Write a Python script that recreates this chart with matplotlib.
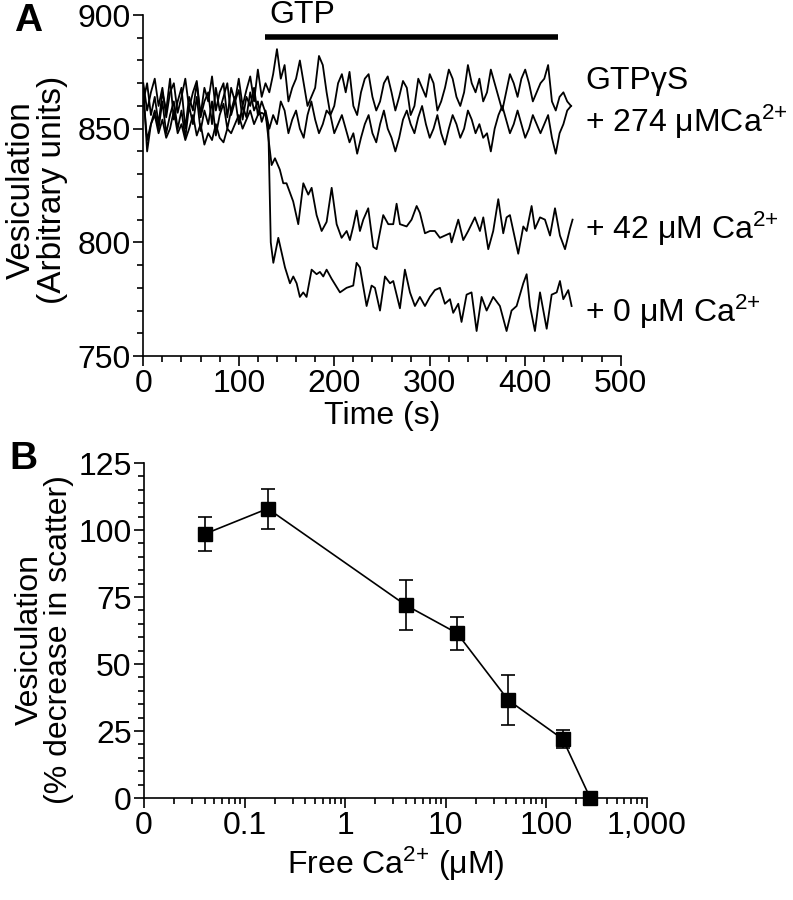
import numpy as np
import matplotlib
matplotlib.use('Agg')
import matplotlib.pyplot as plt
from matplotlib.ticker import FixedLocator, FixedFormatter, MultipleLocator, LogLocator, NullFormatter

plt.rcParams['font.family'] = ['Liberation Sans', 'DejaVu Sans']
plt.rcParams['mathtext.fontset'] = 'custom'
plt.rcParams['mathtext.rm'] = 'Liberation Sans'

# ---------------- Panel A data (Time in s, vesiculation in arbitrary units) -------------
time_flat = list(range(0, 449, 4))
time_pre = list(range(0, 129, 4))

gtpgs = [870, 858, 866, 872, 860, 868, 855, 866, 870, 857, 864, 872, 859, 866, 871, 856,
         868, 862, 873, 858, 866, 870, 855, 868, 862, 872, 860, 867, 873, 862, 876, 864, 870,
         866, 874, 885, 872, 878, 862, 868, 872, 880, 870,
         860, 864, 868, 882, 878, 866, 856, 860, 870, 874,
         866, 875, 860, 856, 866, 872, 874, 864, 858, 862,
         870, 873, 866, 858, 864, 871, 868, 856, 860, 872,
         868, 864, 874, 870, 858, 862, 868, 876, 872, 864,
         860, 866, 878, 870, 866, 872, 862, 866, 876, 870,
         864, 858, 866, 874, 870, 864, 872, 876, 870, 862,
         866, 870, 872, 878, 862, 858, 864, 866, 862, 860]

ca274 = [865, 845, 852, 858, 850, 862, 848, 856, 862, 850, 858, 846, 860, 852, 864, 849,
         858, 852, 862, 847, 856, 861, 850, 858, 864, 852, 860, 855, 866, 858, 862, 853, 858,
         850, 856, 852, 862, 858, 848, 854, 858, 850, 846,
         856, 862, 854, 848, 852, 858, 856, 848, 852, 856,
         850, 844, 848, 839, 846, 852, 856, 848, 844, 852,
         858, 850, 846, 840, 846, 854, 858, 852, 848, 855,
         860, 852, 846, 850, 856, 848, 843, 850, 856, 852,
         846, 850, 858, 854, 848, 852, 846, 848, 840, 850,
         856, 860, 854, 848, 852, 858, 852, 846, 850, 856,
         852, 848, 852, 856, 846, 839, 848, 852, 858, 860]

ca42_pre = [862, 870, 856, 864, 852, 866, 858, 872, 854, 862, 868, 850, 864, 858, 870, 855,
            862, 866, 852, 868, 858, 864, 870, 856, 862, 867, 854, 864, 860, 868, 856, 862, 857]
ca42_time_post = [131, 134.4, 137.9, 143.0, 146.6, 150.0, 157.0, 162.3, 167.6, 172.8,
                  176.3, 181.5, 186.8, 192.0, 197.3, 202.5, 207.7, 213.0, 216.4, 219.9,
                  223.4, 226.9, 230.4, 235.6, 240.9, 244.4, 251.3, 256.6, 261.8, 265.3,
                  268.8, 275.8, 281.0, 286.3, 289.7, 295.0, 300.2, 305.4, 310.7, 315.9,
                  321.2, 322.9, 329.9, 335.1, 340.3, 347.3, 352.6, 356.1, 361.3, 366.5,
                  371.8, 377.0, 380.5, 384.0, 392.7, 398.0, 401.5, 406.7, 410.2, 415.5,
                  420.7, 426.0, 431.2, 436.4, 441.7, 446.9, 449.6]
ca42_post = [846, 834, 837, 832, 826, 826, 818, 808, 826, 821,
             824, 812, 805, 809, 824, 808, 802, 805, 801, 807,
             814, 805, 810, 815, 798, 797, 812, 808, 808, 817,
             808, 807, 810, 816, 813, 804, 805, 805, 802, 803,
             804, 800, 810, 801, 805, 811, 805, 811, 797, 805,
             819, 804, 811, 812, 795, 807, 805, 816, 806, 811,
             810, 803, 815, 803, 797, 806, 810]

ca0_pre = [868, 840, 852, 856, 848, 854, 846, 850, 858, 848, 852, 845, 850, 856, 847, 852,
           843, 848, 845, 852, 846, 844, 850, 848, 852, 856, 850, 854, 858, 852, 856, 857, 856]
ca0_time_post = [131, 133.5, 136.2, 141.4, 148.4, 153.6, 157.1, 160.6, 164.0, 167.5,
                 171.0, 176.3, 181.5, 185.0, 188.5, 192.0, 197.2, 206.0, 212.9, 219.9,
                 223.4, 226.9, 233.9, 239.1, 242.6, 247.9, 253.1, 258.4, 261.8, 268.8,
                 274.0, 279.3, 284.5, 289.7, 295.0, 300.2, 305.4, 310.7, 315.9, 321.2,
                 324.6, 329.9, 333.3, 338.6, 343.8, 349.1, 354.3, 359.6, 366.5, 373.5,
                 380.5, 385.7, 391.0, 398.0, 401.5, 405.0, 410.2, 415.5, 422.5, 427.7,
                 433.0, 436.4, 439.9, 445.1, 448.6]
ca0_post = [850, 800, 791, 802, 789, 782, 785, 782, 776, 778,
            776, 788, 786, 787, 785, 788, 784, 778, 780, 781,
            791, 789, 772, 781, 780, 770, 785, 782, 783, 771,
            788, 778, 772, 776, 772, 776, 779, 780, 773, 775,
            769, 773, 765, 777, 778, 761, 776, 770, 776, 772,
            761, 770, 772, 782, 786, 772, 761, 778, 762, 777,
            778, 783, 775, 779, 772]

gtp_period = [127, 434]
gtp_bar_level = 890.5

CA = '$\\mathregular{Ca^{2{+}}}$'
trace_labels = ['GTP\u03b3S', '+ 274 \u03bcM' + CA,
                '+ 42 \u03bcM ' + CA, '+ 0 \u03bcM ' + CA]
trace_label_y = [871, 853, 806, 769.5]

# ---------------- Panel B data ----------------
free_ca = [0.04, 0.17, 4, 13, 42, 146, 274]
vesic_pct = [98.5, 108, 72, 61.5, 36.5, 22, 0]
vesic_err = [6.5, 7.5, 9.3, 6.2, 9.4, 3.3, 0]
b_xticks = [0.01, 0.1, 1, 10, 100, 1000]
b_xticklabels = ['0', '0.1', '1', '10', '100', '1,000']

FS = 23
LW = 1.2

fig = plt.figure(figsize=(7.93, 9.0), dpi=100)

# ---------------- Panel A ----------------
axA = fig.add_axes([0.1807, 0.6044, 0.602, 0.3789])
tl = dict(color='k', lw=1.3, solid_joinstyle='round')
axA.plot(time_flat, gtpgs, **tl)
axA.plot(time_flat, ca274, **tl)
axA.plot(time_pre + ca42_time_post, ca42_pre + ca42_post, **tl)
axA.plot(time_pre + ca0_time_post, ca0_pre + ca0_post, **tl)
axA.set_xlim(0, 500)
axA.set_ylim(750, 900)
axA.plot(gtp_period, [gtp_bar_level] * 2, color='k', lw=4, solid_capstyle='butt', clip_on=False)
axA.text(132, 900, 'GTP', fontsize=FS, ha='left', va='center', clip_on=False)
for lab, yy in zip(trace_labels, trace_label_y):
    axA.text(463, yy, lab, fontsize=FS, ha='left', va='center', clip_on=False)
axA.xaxis.set_major_locator(MultipleLocator(100))
axA.xaxis.set_minor_locator(MultipleLocator(20))
axA.yaxis.set_major_locator(MultipleLocator(50))
axA.yaxis.set_minor_locator(MultipleLocator(10))
axA.set_xlabel('Time (s)', fontsize=FS, labelpad=2)

# ---------------- Panel B ----------------
axB = fig.add_axes([0.1816, 0.1133, 0.634, 0.3722])
axB.set_xscale('log')
axB.errorbar(free_ca, vesic_pct, yerr=vesic_err, color='k', lw=LW, elinewidth=LW,
             capsize=5, capthick=LW, marker='s', markersize=10, clip_on=False, zorder=3)
axB.set_xlim(0.01, 1000)
axB.set_ylim(0, 125)
axB.xaxis.set_major_locator(FixedLocator(b_xticks))
axB.xaxis.set_major_formatter(FixedFormatter(b_xticklabels))
axB.xaxis.set_minor_locator(LogLocator(base=10, subs=np.arange(2, 10)))
axB.xaxis.set_minor_formatter(NullFormatter())
axB.yaxis.set_major_locator(MultipleLocator(25))
axB.yaxis.set_minor_locator(MultipleLocator(5))
axB.set_xlabel('Free ' + CA + ' (\u03bcM)', fontsize=FS, labelpad=3)

for ax in (axA, axB):
    for s in ('top', 'right'):
        ax.spines[s].set_visible(False)
    for s in ('left', 'bottom'):
        ax.spines[s].set_linewidth(LW)
    ax.tick_params(which='major', direction='out', length=7, width=LW, labelsize=FS, pad=2)
    ax.tick_params(which='minor', direction='out', length=4, width=LW)

fig.text(0.047, 0.789, 'Vesiculation\n(Arbitrary units)', rotation=90, fontsize=24,
         ha='center', va='center', multialignment='center', linespacing=1.0)
fig.text(0.056, 0.289, 'Vesiculation\n(% decrease in scatter)', rotation=90, fontsize=23,
         ha='center', va='center', multialignment='center', linespacing=1.0)
fig.text(0.035, 0.977, 'A', fontsize=28, fontweight='bold', ha='center', va='center')
fig.text(0.030, 0.490, 'B', fontsize=28, fontweight='bold', ha='center', va='center')

fig.savefig('out.png', dpi=100)
